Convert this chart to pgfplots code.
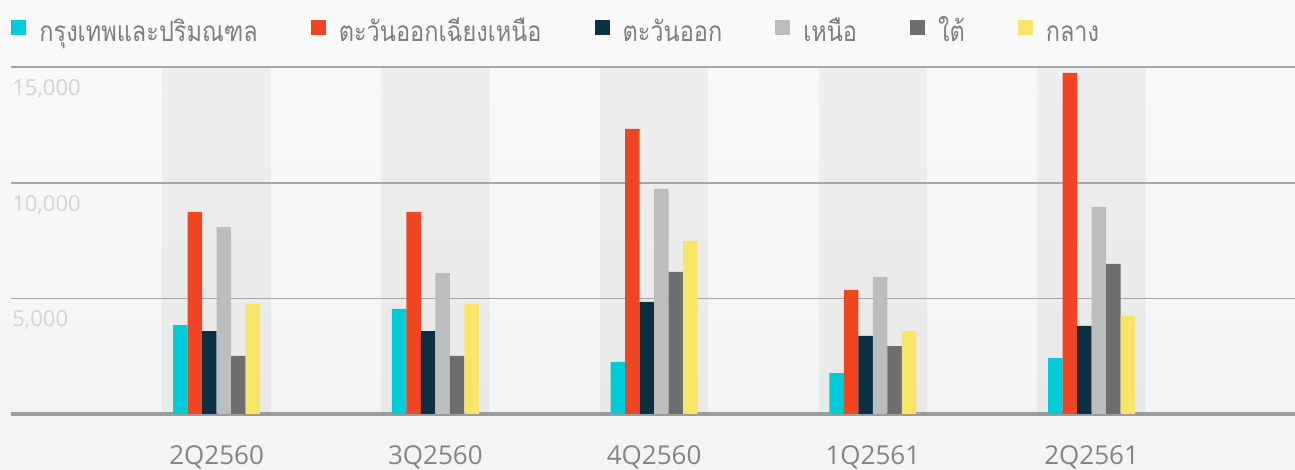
\documentclass[border=0pt]{standalone}
\usepackage{fontspec}
\setmainfont{Open Sans}
\newfontfamily\thaifont[Script=Thai, FakeStretch=0.84]{Loma}
\usepackage{pgfplots}
\pgfplotsset{compat=1.18}

\definecolor{cCyan}{RGB}{0,203,216}
\definecolor{cRed}{RGB}{240,69,35}
\definecolor{cNavy}{RGB}{10,48,66}
\definecolor{cLight}{RGB}{188,189,190}
\definecolor{cDark}{RGB}{109,110,112}
\definecolor{cYellow}{RGB}{248,228,103}
\definecolor{bgTop}{RGB}{250,250,250}
\definecolor{bgBot}{RGB}{242,243,243}
\definecolor{bandTop}{RGB}{238,238,238}
\definecolor{bandBot}{RGB}{233,233,233}
\definecolor{gridCol}{RGB}{166,166,166}
\definecolor{baseCol}{RGB}{156,156,158}
\definecolor{ytxt}{RGB}{212,212,212}
\definecolor{xtxt}{RGB}{133,133,133}
\definecolor{legtxt}{RGB}{127,127,127}

% same height and depth for every legend text, so they share one baseline
\newcommand\ls{\rule[-4.5pt]{0pt}{19.5pt}}

\begin{document}
\begin{tikzpicture}
\begin{axis}[
    set layers,
    clip=false,
    at={(5.5pt,28pt)}, anchor=south west,
    scale only axis,
    width=642pt, height=173.35pt,
    ybar=0pt, bar width=7.25pt,
    xmin=-0.94, xmax=4.93,
    ymin=0, ymax=15000,
    xtick={0,1,2,3,4},
    xticklabels={2Q2560,3Q2560,4Q2560,1Q2561,2Q2561},
    ytick={5000,10000,15000},
    yticklabels={5{,}000,10{,}000,15{,}000},
    scaled y ticks=false,
    extra y ticks={0},
    extra y tick labels={},
    extra y tick style={grid style={draw=baseCol, line width=1.8pt}},
    ymajorgrids,
    grid style={draw=gridCol, line width=0.8pt},
    major tick length=0pt,
    axis line style={draw=none},
    /pgf/number format/assume math mode=true,
    xticklabel style={anchor=base, yshift=-25.5pt, text=xtxt,
        font=\fontsize{13pt}{15pt}\selectfont},
    yticklabel style={anchor=north west, inner sep=0pt, xshift=0.5pt,
        yshift=-6pt, text=ytxt, font=\fontsize{11pt}{13pt}\selectfont},
    legend columns=6,
    legend cell align=left,
    legend style={at={(axis description cs:0,1.1134)}, anchor=west,
        draw=none, fill=none, inner sep=0pt, text=legtxt,
        font=\thaifont\fontsize{14pt}{16pt}\selectfont,
        /tikz/every odd column/.append style={column sep=4.5pt},
        /tikz/every even column/.append style={column sep=24.5pt}},
    legend image code/.code={\fill[#1] (0pt,-3.75pt) rectangle (7.5pt,3.75pt);},
]
\begin{pgfonlayer}{axis background}
\shade[top color=bgTop, bottom color=bgBot]
    (rel axis cs:-0.05,-0.3) rectangle (rel axis cs:1.05,1.3);
\pgfplotsinvokeforeach{0,1,2,3,4}{
    \shade[top color=bandTop, bottom color=bandBot]
        (axis cs:#1-0.247,0) rectangle (axis cs:#1+0.247,15000);
}
\end{pgfonlayer}
\addplot[fill=cCyan, draw=none] coordinates {(0,3850) (1,4550) (2,2250) (3,1770) (4,2420)};
\addplot[fill=cRed, draw=none] coordinates {(0,8740) (1,8740) (2,12340) (3,5370) (4,14760)};
\addplot[fill=cNavy, draw=none] coordinates {(0,3590) (1,3590) (2,4850) (3,3380) (4,3810)};
\addplot[fill=cLight, draw=none] coordinates {(0,8090) (1,6100) (2,9740) (3,5930) (4,8960)};
\addplot[fill=cDark, draw=none] coordinates {(0,2510) (1,2510) (2,6150) (3,2940) (4,6490)};
\addplot[fill=cYellow, draw=none] coordinates {(0,4760) (1,4760) (2,7490) (3,3590) (4,4240)};
\legend{\ls กรุงเทพและปริมณฑล,\ls ตะวันออกเฉียงเหนือ,\ls ตะวันออก,\ls เหนือ,\ls ใต้,\ls กลาง}
\end{axis}
\pgfresetboundingbox
\path[use as bounding box] (0,0) rectangle (647.5pt,235pt);
\end{tikzpicture}
\end{document}
